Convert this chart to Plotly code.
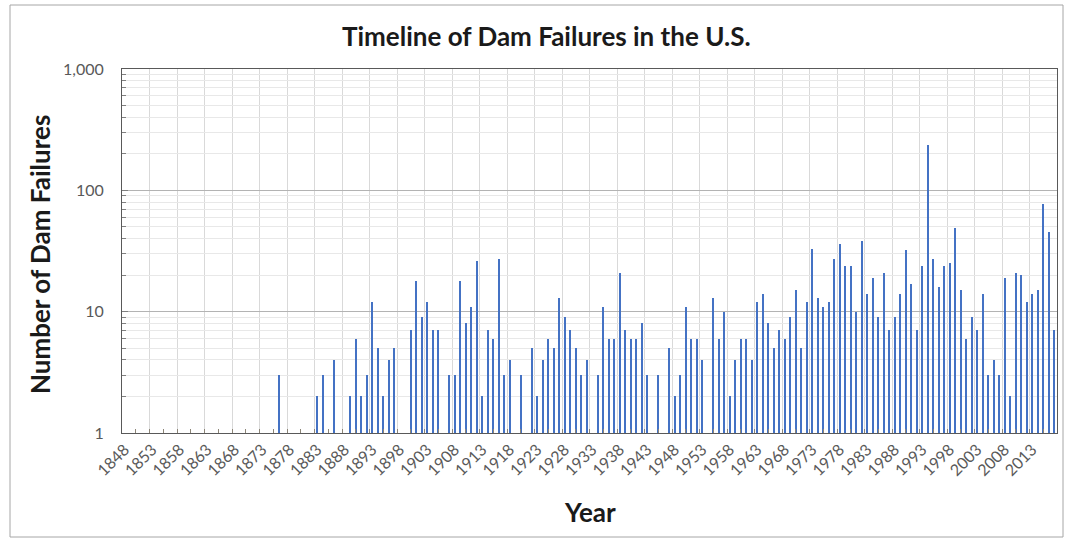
import plotly.graph_objects as go

# Annual count of U.S. dam failures, 1848-2017
years = list(range(1848, 2018))
failures = [
    1, 1,                                   # 1848-1849
    1, 1, 1, 1, 1, 1, 1, 1, 1, 1,           # 1850s
    1, 1, 1, 1, 1, 1, 1, 1, 1, 1,           # 1860s
    1, 1, 1, 1, 1, 1, 3, 1, 1, 1,           # 1870s
    1, 1, 1, 2, 3, 1, 4, 1, 1, 2,           # 1880s
    6, 2, 3, 12, 5, 2, 4, 5, 1, 1,          # 1890s
    7, 18, 9, 12, 7, 7, 1, 3, 3, 18,        # 1900s
    8, 11, 26, 2, 7, 6, 27, 3, 4, 1,        # 1910s
    3, 1, 5, 2, 4, 6, 5, 13, 9, 7,          # 1920s
    5, 3, 4, 1, 3, 11, 6, 6, 21, 7,         # 1930s
    6, 6, 8, 3, 1, 3, 1, 5, 2, 3,           # 1940s
    11, 6, 6, 4, 1, 13, 6, 10, 2, 4,        # 1950s
    6, 6, 4, 12, 14, 8, 5, 7, 6, 9,         # 1960s
    15, 5, 12, 33, 13, 11, 12, 27, 36, 24,  # 1970s
    24, 10, 38, 14, 19, 9, 21, 7, 9, 14,    # 1980s
    32, 17, 7, 24, 235, 27, 16, 24, 25, 49, # 1990s
    15, 6, 9, 7, 14, 3, 4, 3, 19, 2,        # 2000s
    21, 20, 12, 14, 15, 77, 45, 7,          # 2010-2017
]

y_tick_vals = [1, 10, 100, 1000]
y_tick_text = ["1", "10", "100", "1,000"]
y_minor_vals = [m * d for d in (1, 10, 100) for m in range(2, 10)]

FONT = "Lato"
W, H = 1068, 540
L, R, T, B = 122, 11, 69, 107
PW, PH = W - L - R, H - T - B


def px_x(px):
    return (px - L) / PW


def px_y(py):
    return (H - B - py) / PH


fig = go.Figure()
fig.add_trace(go.Bar(
    x=years, y=failures, width=0.4,
    marker=dict(color="#4472C4", line=dict(width=0)),
    hovertemplate="%{x}: %{y}<extra></extra>",
))

x_range = [years[0] - 0.5, years[-1] + 0.5]

fig.update_layout(
    width=W, height=H,
    margin=dict(l=L, r=R, t=T, b=B),
    paper_bgcolor="white", plot_bgcolor="white",
    showlegend=False,
    bargap=0,
    font=dict(family=FONT, color="#595959"),
    xaxis=dict(
        range=x_range, tickmode="linear", tick0=years[0], dtick=5,
        tickangle=-45, tickfont=dict(size=16, color="#595959"),
        showgrid=False, ticks="",
        showline=True, linecolor="#595959", linewidth=1, mirror=True,
        minor=dict(tick0=years[0] - 0.5, dtick=5, showgrid=True,
                   gridcolor="#d9d9d9", gridwidth=1, ticks=""),
        zeroline=False,
    ),
    xaxis2=dict(
        range=x_range, overlaying="x", anchor="y", side="bottom",
        tickmode="linear", tick0=years[0] - 0.5, dtick=2.5,
        ticks="inside", ticklen=4, tickcolor="#8c8577", tickwidth=1,
        showticklabels=False, showgrid=False, showline=False, zeroline=False,
    ),
    yaxis=dict(
        type="log", range=[0, 3],
        tickmode="array", tickvals=y_tick_vals, ticktext=y_tick_text,
        tickfont=dict(size=16, color="#595959"),
        ticks="inside", ticklen=6, tickcolor="#7f7f7f",
        ticklabelstandoff=14,
        showgrid=True, gridcolor="#b3b3b3", gridwidth=1,
        minor=dict(tickvals=y_minor_vals, showgrid=True, gridcolor="#e8e8e8",
                   ticks="inside", ticklen=4, tickcolor="#7f7f7f"),
        showline=True, linecolor="#595959", linewidth=1, mirror=True,
        zeroline=False,
    ),
)

# a hidden helper trace keeps the overlaying tick axis active
fig.add_trace(go.Scatter(x=[years[0]], y=[1], xaxis="x2", mode="markers",
                         marker=dict(opacity=0), hoverinfo="skip"))

title_font = dict(family=FONT, size=26, color="#1a1a1a")
fig.add_annotation(text="<b>Timeline of Dam Failures in the U.S.</b>",
                   xref="paper", yref="paper", x=px_x(546), y=px_y(36),
                   xanchor="center", yanchor="middle",
                   showarrow=False, font=title_font)
fig.add_annotation(text="<b>Number of Dam Failures</b>", textangle=-90,
                   xref="paper", yref="paper", x=px_x(40), y=px_y(255),
                   xanchor="center", yanchor="middle",
                   showarrow=False, font=title_font)
fig.add_annotation(text="<b>Year</b>",
                   xref="paper", yref="paper", x=px_x(590), y=px_y(512),
                   xanchor="center", yanchor="middle",
                   showarrow=False, font=title_font)

# chart-area frame
fig.add_shape(type="rect", xref="paper", yref="paper",
              x0=px_x(10), x1=px_x(1063), y0=px_y(537), y1=px_y(5),
              line=dict(color="#a6a6a6", width=1), fillcolor="rgba(0,0,0,0)",
              layer="below")

fig.write_html("out.html")
